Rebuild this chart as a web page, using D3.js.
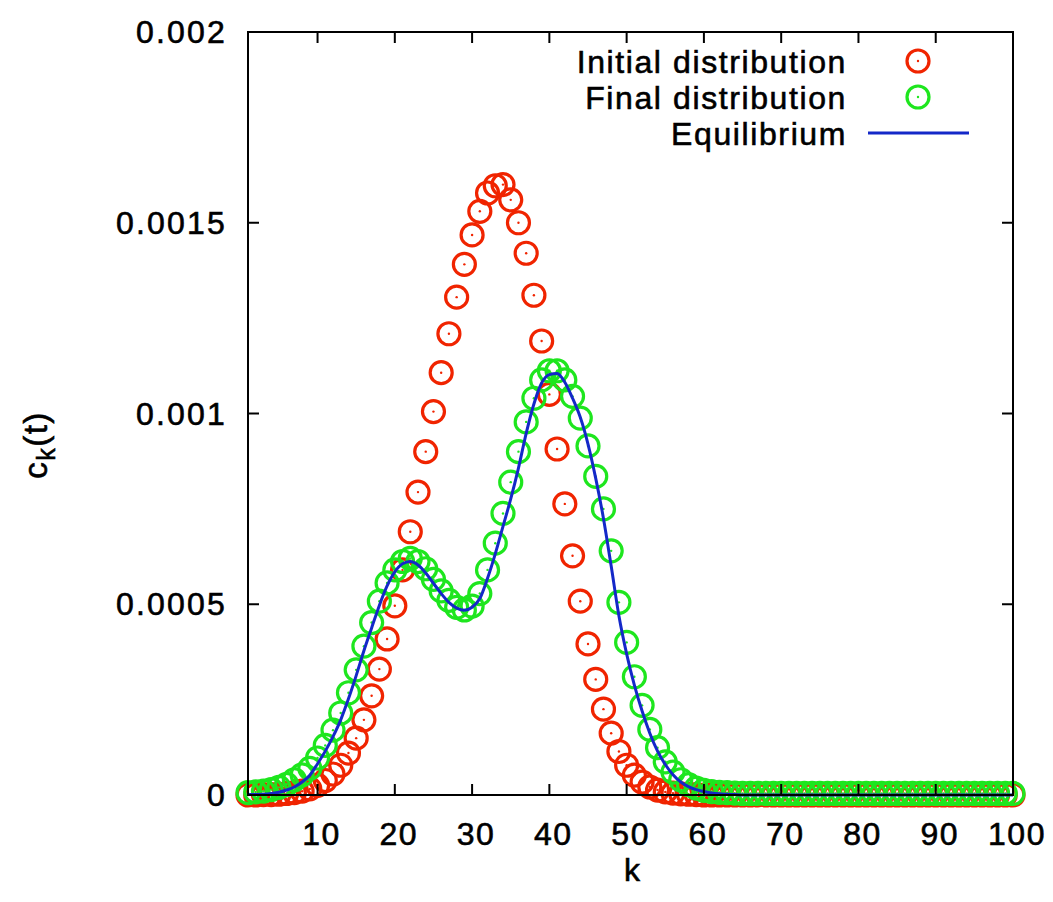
<!DOCTYPE html>
<html>
<head>
<meta charset="utf-8">
<script src="https://cdn.jsdelivr.net/npm/d3@7"></script>
<style>
  body { margin: 0; background: #fff; }
  text { font-family: "Liberation Sans", Arial, sans-serif; fill: #000; stroke: #000; stroke-width: 0.6px; }
</style>
</head>
<body>
<svg id="chart" width="1053" height="902"></svg>
<script>
// k = 1..100
var kValues = d3.range(1, 101);

var initialDist = [
  0, 0, 0.000001, 0.000001, 0.000002, 0.000004, 0.000006, 0.00001, 0.000016, 0.000025,
  0.000038, 0.000055, 0.000078, 0.00011, 0.000149, 0.000197, 0.00026, 0.00033, 0.000409, 0.000496,
  0.00059, 0.00069, 0.000794, 0.0009, 0.001005, 0.001107, 0.001209, 0.001305, 0.001391, 0.001468,
  0.00153, 0.001578, 0.001597, 0.0016, 0.00156, 0.0015, 0.00142, 0.00131, 0.00119, 0.00105,
  0.000907, 0.000763, 0.000627, 0.000508, 0.000396, 0.000303, 0.000225, 0.000162, 0.000114, 0.000078,
  0.000052, 0.000034, 0.000021, 0.000013, 0.000008, 0.000005, 0.000003, 0.000002, 0.000001, 0,
  0, 0, 0, 0, 0, 0, 0, 0, 0, 0,
  0, 0, 0, 0, 0, 0, 0, 0, 0, 0,
  0, 0, 0, 0, 0, 0, 0, 0, 0, 0,
  0, 0, 0, 0, 0, 0, 0, 0, 0, 0
];

var finalDist = [
  0.000006, 0.000008, 0.00001, 0.000014, 0.00002, 0.000028, 0.00004, 0.000053, 0.00007, 0.000097,
  0.00013, 0.00017, 0.000215, 0.000268, 0.000328, 0.00039, 0.000452, 0.000508, 0.000556, 0.00059,
  0.000612, 0.00062, 0.000612, 0.000593, 0.000565, 0.000535, 0.00051, 0.000492, 0.000485, 0.000495,
  0.000528, 0.00059, 0.00066, 0.000738, 0.00082, 0.0009, 0.000978, 0.00104, 0.001088, 0.001112,
  0.001112, 0.001088, 0.001045, 0.000988, 0.000915, 0.000835, 0.00075, 0.00064, 0.000505, 0.0004,
  0.00031, 0.000235, 0.000172, 0.000124, 0.000087, 0.00006, 0.00004, 0.000027, 0.000018, 0.000012,
  0.000009, 0.000007, 0.000006, 0.000005, 0.000004, 0.000004, 0.000004, 0.000004, 0.000004, 0.000004,
  0.000004, 0.000004, 0.000004, 0.000004, 0.000004, 0.000004, 0.000004, 0.000004, 0.000004, 0.000004,
  0.000004, 0.000004, 0.000004, 0.000004, 0.000004, 0.000004, 0.000004, 0.000004, 0.000004, 0.000004,
  0.000004, 0.000004, 0.000004, 0.000004, 0.000004, 0.000004, 0.000004, 0.000004, 0.000004, 0.000004
];

var equilibrium = [
  0.000001, 0.000001, 0.000002, 0.000004, 0.000007, 0.000013, 0.000021, 0.000034, 0.000052, 0.000082,
  0.000115, 0.000153, 0.000197, 0.000252, 0.000313, 0.000378, 0.000438, 0.000497, 0.000548, 0.000585,
  0.000606, 0.000612, 0.000603, 0.000582, 0.000555, 0.000528, 0.000505, 0.00049, 0.000484, 0.000492,
  0.000515, 0.000568, 0.000632, 0.000704, 0.000776, 0.000857, 0.000948, 0.001025, 0.00108, 0.001102,
  0.001105, 0.001082, 0.00104, 0.00099, 0.00092, 0.00083, 0.000725, 0.0006, 0.00047, 0.00037,
  0.000288, 0.00022, 0.000162, 0.000115, 0.00008, 0.000053, 0.000034, 0.000022, 0.000014, 0.000009,
  0.000005, 0.000003, 0.000002, 0.000001, 0, 0, 0, 0, 0, 0,
  0, 0, 0, 0, 0, 0, 0, 0, 0, 0,
  0, 0, 0, 0, 0, 0, 0, 0, 0, 0,
  0, 0, 0, 0, 0, 0, 0, 0, 0, 0
];

var xTicks = [10, 20, 30, 40, 50, 60, 70, 80, 90, 100];
var yTicks = [0, 0.0005, 0.001, 0.0015, 0.002];
var yTickLabels = ["0", "0.0005", "0.001", "0.0015", "0.002"];

var seriesNames = ["Initial distribution", "Final distribution", "Equilibrium"];
var seriesColors = ["#f02400", "#1ee61e", "#1428c8"];

var svg = d3.select("#chart"),
    plotLeft = 248, plotRight = 1013, plotTop = 32, plotBottom = 795;

var x = d3.scaleLinear().domain([1, 100]).range([plotLeft, plotRight]);
var y = d3.scaleLinear().domain([0, 0.002]).range([plotBottom, plotTop]);

var g = svg.append("g");

function drawPoints(values, color) {
    var pts = g.append("g");
    pts.selectAll("circle.ring")
        .data(values)
        .enter().append("circle")
        .attr("class", "ring")
        .attr("cx", function (d, i) { return x(kValues[i]); })
        .attr("cy", function (d) { return y(d); })
        .attr("r", 11)
        .attr("fill", "none")
        .attr("stroke", color)
        .attr("stroke-width", 3.2);
    pts.selectAll("circle.dot")
        .data(values)
        .enter().append("circle")
        .attr("class", "dot")
        .attr("cx", function (d, i) { return x(kValues[i]); })
        .attr("cy", function (d) { return y(d); })
        .attr("r", 1.2)
        .attr("fill", color);
}

drawPoints(initialDist, seriesColors[0]);
drawPoints(finalDist, seriesColors[1]);

var line = d3.line()
    .x(function (d, i) { return x(kValues[i]); })
    .y(function (d) { return y(d); })
    .curve(d3.curveMonotoneX);

g.append("path")
    .datum(equilibrium)
    .attr("d", line)
    .attr("fill", "none")
    .attr("stroke", seriesColors[2])
    .attr("stroke-width", 3);

// frame with inward ticks on all four sides
var axes = svg.append("g").attr("stroke", "#000").attr("stroke-width", 2);
axes.append("rect")
    .attr("x", plotLeft).attr("y", plotTop)
    .attr("width", plotRight - plotLeft).attr("height", plotBottom - plotTop)
    .attr("fill", "none");

xTicks.forEach(function (t) {
    axes.append("line").attr("x1", x(t)).attr("x2", x(t)).attr("y1", plotBottom).attr("y2", plotBottom - 11);
    axes.append("line").attr("x1", x(t)).attr("x2", x(t)).attr("y1", plotTop).attr("y2", plotTop + 11);
});
yTicks.forEach(function (t) {
    axes.append("line").attr("x1", plotLeft).attr("x2", plotLeft + 11).attr("y1", y(t)).attr("y2", y(t));
    axes.append("line").attr("x1", plotRight).attr("x2", plotRight - 11).attr("y1", y(t)).attr("y2", y(t));
});

svg.append("g").selectAll("text")
    .data(xTicks)
    .enter().append("text")
    .attr("x", function (d) { return x(d) + 4; })
    .attr("y", 845)
    .attr("text-anchor", "middle")
    .attr("font-size", 32)
    .attr("letter-spacing", 1.5)
    .text(function (d) { return d; });

svg.append("g").selectAll("text")
    .data(yTicks)
    .enter().append("text")
    .attr("x", 227)
    .attr("y", function (d) { return y(d) + 11; })
    .attr("text-anchor", "end")
    .attr("font-size", 32)
    .attr("letter-spacing", 2.2)
    .text(function (d, i) { return yTickLabels[i]; });

svg.append("text")
    .attr("x", 632)
    .attr("y", 881)
    .attr("text-anchor", "middle")
    .attr("font-size", 32)
    .text("k");

var yTitle = svg.append("text")
    .attr("transform", "translate(47,445) rotate(-90)")
    .attr("text-anchor", "middle")
    .attr("font-size", 33)
    .attr("letter-spacing", 1.5);
yTitle.append("tspan").text("c");
yTitle.append("tspan").attr("font-size", 25).attr("dy", 8).text("k");
yTitle.append("tspan").attr("dy", -8).text("(t)");

// legend
var legend = svg.append("g")
    .selectAll("g")
    .data(seriesNames)
    .enter().append("g")
    .attr("transform", function (d, i) { return "translate(0," + (61 + i * 36) + ")"; });

legend.append("text")
    .attr("x", 847)
    .attr("y", 12)
    .attr("text-anchor", "end")
    .attr("font-size", 32)
    .attr("letter-spacing", 1.6)
    .text(function (d) { return d; });

legend.filter(function (d, i) { return i < 2; })
    .append("circle")
    .attr("cx", 918).attr("cy", 0).attr("r", 11)
    .attr("fill", "none")
    .attr("stroke", function (d, i) { return seriesColors[i]; })
    .attr("stroke-width", 3.2);
legend.filter(function (d, i) { return i < 2; })
    .append("circle")
    .attr("cx", 918).attr("cy", 0).attr("r", 1.2)
    .attr("fill", function (d, i) { return seriesColors[i]; });
legend.filter(function (d, i) { return i === 2; })
    .append("line")
    .attr("x1", 868).attr("x2", 969).attr("y1", 0).attr("y2", 0)
    .attr("stroke", seriesColors[2])
    .attr("stroke-width", 3);
</script>
</body>
</html>
